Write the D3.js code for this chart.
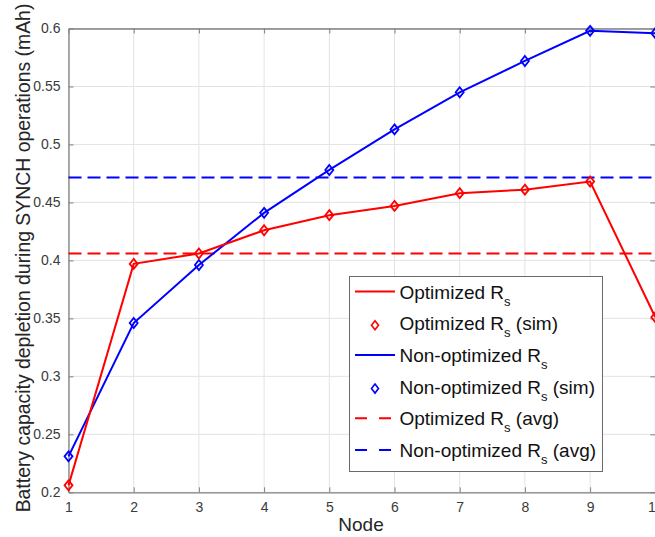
<!DOCTYPE html>
<html>
<head>
<meta charset="utf-8">
<script src="https://cdn.jsdelivr.net/npm/d3@7/dist/d3.min.js"></script>
<style>
  html, body { margin: 0; padding: 0; background: #fff; }
  svg { display: block; font-family: "Liberation Sans", Arial, Helvetica, sans-serif; }
</style>
</head>
<body>
<svg id="chart" width="655" height="537"></svg>
<script>
// Node indices
const nodes = [1, 2, 3, 4, 5, 6, 7, 8, 9, 10];
// Battery depletion per node (mAh), analytical curves
const optimized    = [0.206, 0.397, 0.406, 0.426, 0.439, 0.447, 0.458, 0.461, 0.468, 0.351];
const nonOptimized = [0.231, 0.346, 0.396, 0.441, 0.478, 0.513, 0.545, 0.572, 0.598, 0.596];
// Simulated points
const optimizedSim    = [0.206, 0.397, 0.406, 0.426, 0.439, 0.447, 0.458, 0.461, 0.468, 0.351];
const nonOptimizedSim = [0.231, 0.346, 0.396, 0.441, 0.478, 0.513, 0.545, 0.572, 0.598, 0.596];
// Averages over all nodes
const optimizedAvg = 0.406;
const nonOptimizedAvg = 0.4716;
// Tick values
const xTicks = [1, 2, 3, 4, 5, 6, 7, 8, 9, 10];
const yTicks = [0.2, 0.25, 0.3, 0.35, 0.4, 0.45, 0.5, 0.55, 0.6];

const RED = "#ff0000", BLUE = "#0000ff";
const svg = d3.select("#chart");
const plotLeft = 68.5, plotRight = 655.3, plotTop = 28.5, plotBottom = 492.3;

const x = d3.scaleLinear().domain([1, 10]).range([plotLeft, plotRight]);
const y = d3.scaleLinear().domain([0.2, 0.6]).range([plotBottom, plotTop]);

// grid
const grid = svg.append("g").attr("stroke", "#e3e3e3").attr("stroke-width", 1);
xTicks.forEach(t => grid.append("line").attr("x1", x(t)).attr("x2", x(t)).attr("y1", plotTop).attr("y2", plotBottom));
yTicks.forEach(t => grid.append("line").attr("x1", plotLeft).attr("x2", plotRight).attr("y1", y(t)).attr("y2", y(t)));

// axes
const axisColor = "#808080";
const xAxis = svg.append("g").attr("transform", `translate(0,${plotBottom})`)
  .call(d3.axisBottom(x).tickValues(xTicks).tickSizeInner(-5).tickSizeOuter(0).tickPadding(10).tickFormat(d3.format("d")));
const yAxis = svg.append("g").attr("transform", `translate(${plotLeft},0)`)
  .call(d3.axisLeft(y).tickValues(yTicks).tickSizeInner(-5).tickSizeOuter(0).tickPadding(8).tickFormat(d => String(+d.toFixed(2))));
const xTopAxis = svg.append("g").attr("transform", `translate(0,${plotTop})`)
  .call(d3.axisTop(x).tickValues(xTicks).tickSizeInner(-5).tickSizeOuter(0).tickFormat(""));
const yRightAxis = svg.append("g").attr("transform", `translate(${plotRight},0)`)
  .call(d3.axisRight(y).tickValues(yTicks).tickSizeInner(-5).tickSizeOuter(0).tickFormat(""));
[xAxis, yAxis, xTopAxis, yRightAxis].forEach(a => {
  a.select(".domain").attr("stroke", axisColor).attr("stroke-width", 1.3);
  a.selectAll(".tick line").attr("stroke", axisColor).attr("stroke-width", 1);
  a.selectAll(".tick text").attr("fill", "#3a3a3a").attr("font-size", 14)
    .attr("font-family", "'Liberation Sans', Arial, sans-serif");
});

// dashed average lines
const dash = "13,6";
svg.append("line").attr("x1", plotLeft).attr("x2", plotRight)
  .attr("y1", y(optimizedAvg)).attr("y2", y(optimizedAvg))
  .attr("stroke", RED).attr("stroke-width", 2).attr("stroke-dasharray", dash);
svg.append("line").attr("x1", plotLeft).attr("x2", plotRight)
  .attr("y1", y(nonOptimizedAvg)).attr("y2", y(nonOptimizedAvg))
  .attr("stroke", BLUE).attr("stroke-width", 2).attr("stroke-dasharray", dash);

// curves
const line = d3.line().x((d, i) => x(nodes[i])).y(d => y(d));
svg.append("path").datum(nonOptimized).attr("d", line)
  .attr("fill", "none").attr("stroke", BLUE).attr("stroke-width", 2);
svg.append("path").datum(optimized).attr("d", line)
  .attr("fill", "none").attr("stroke", RED).attr("stroke-width", 2);

// diamond markers
function diamond(cx, cy, w, h) {
  return `M${cx},${cy - h / 2}L${cx + w / 2},${cy}L${cx},${cy + h / 2}L${cx - w / 2},${cy}Z`;
}
function markers(data, color) {
  svg.append("g").selectAll("path").data(data).join("path")
    .attr("d", (d, i) => diamond(x(nodes[i]), y(d), 8, 10))
    .attr("fill", "none").attr("stroke", color).attr("stroke-width", 1.8);
}
markers(nonOptimizedSim, BLUE);
markers(optimizedSim, RED);

// axis titles
svg.append("text").attr("x", 361).attr("y", 531).attr("text-anchor", "middle")
  .attr("font-size", 19).attr("fill", "#262626").text("Node");
svg.append("text").attr("transform", "translate(30,258) rotate(-90)").attr("text-anchor", "middle")
  .attr("font-size", 19.4).attr("fill", "#262626")
  .text("Battery capacity depletion during SYNCH operations (mAh)");

// legend
const legendItems = [
  { label: "Optimized R", suffix: "", color: RED, kind: "line" },
  { label: "Optimized R", suffix: " (sim)", color: RED, kind: "marker" },
  { label: "Non-optimized R", suffix: "", color: BLUE, kind: "line" },
  { label: "Non-optimized R", suffix: " (sim)", color: BLUE, kind: "marker" },
  { label: "Optimized R", suffix: " (avg)", color: RED, kind: "dash" },
  { label: "Non-optimized R", suffix: " (avg)", color: BLUE, kind: "dash" }
];
const lg = svg.append("g");
lg.append("rect").attr("x", 349.5).attr("y", 276.5).attr("width", 253).attr("height", 195)
  .attr("fill", "#fff").attr("stroke", "#6a6a6a").attr("stroke-width", 1);
legendItems.forEach((it, i) => {
  const cy = 291.5 + i * 31.7;
  if (it.kind === "line") {
    lg.append("line").attr("x1", 355).attr("x2", 395).attr("y1", cy).attr("y2", cy)
      .attr("stroke", it.color).attr("stroke-width", 2);
  } else if (it.kind === "dash") {
    lg.append("line").attr("x1", 355).attr("x2", 391).attr("y1", cy).attr("y2", cy)
      .attr("stroke", it.color).attr("stroke-width", 2).attr("stroke-dasharray", "12,12");
  } else {
    lg.append("path").attr("d", diamond(375, cy + 2, 7, 9))
      .attr("fill", "none").attr("stroke", it.color).attr("stroke-width", 1.6);
  }
  const t = lg.append("text").attr("x", 399.5).attr("y", cy + 7)
    .attr("font-size", 19).attr("fill", "#111");
  t.append("tspan").text(it.label);
  t.append("tspan").attr("font-size", 13).attr("dy", 7).text("s");
  if (it.suffix) t.append("tspan").attr("dy", -7).text(it.suffix);
});
</script>
</body>
</html>
